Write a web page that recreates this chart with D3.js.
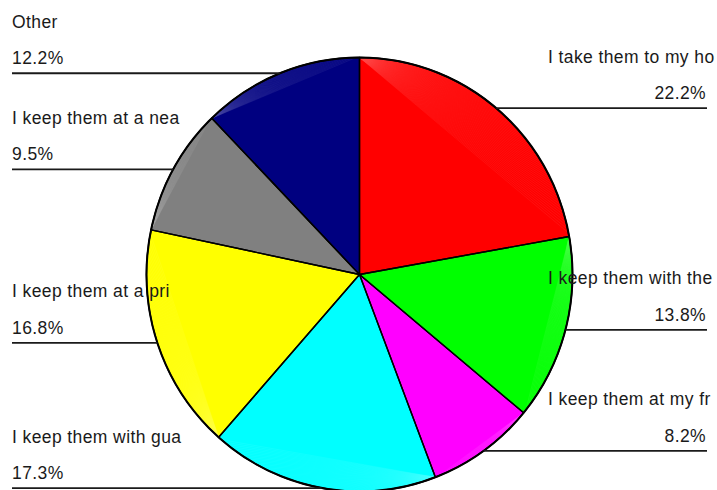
<!DOCTYPE html>
<html>
<head>
<meta charset="utf-8">
<script src="https://cdn.jsdelivr.net/npm/d3@7"></script>
<style>
  html, body { margin: 0; padding: 0; background: #fff; overflow: hidden; }
  svg { display: block; }
  text { font-family: "Liberation Sans", Arial, sans-serif; font-size: 17.5px; letter-spacing: 0.4px; fill: #1a1a1a; }
</style>
</head>
<body>
<svg id="chart" width="717" height="490"></svg>
<script>
// Answers and their shares (%), clockwise from 12 o'clock
const categories = [
  "I take them to my home",
  "I keep them with the",
  "I keep them at my friend's",
  "I keep them with guards",
  "I keep them at a private place",
  "I keep them at a nearby place",
  "Other"
];
const shares = [22.2, 13.8, 8.2, 17.3, 16.8, 9.5, 12.2];
const colors = ["#ff0000", "#00ff00", "#ff00ff", "#00ffff", "#ffff00", "#808080", "#000080"];

const W = 717, H = 490;
const cx = 359.5, cy = 274.5, rx = 213, ry = 217;

const svg = d3.select("#chart");

const pie = d3.pie().sort(null).value(d => d.value).startAngle(0).endAngle(2 * Math.PI);
const data = categories.map((c, i) => ({ name: c, value: shares[i], color: colors[i] }));
const arcs = pie(data);

const arc = d3.arc().innerRadius(0).outerRadius(ry);

// pie is drawn on a circle and squeezed horizontally into an ellipse
const g = svg.append("g").attr("transform", `translate(${cx},${cy}) scale(${rx / ry},1)`);

g.selectAll("path.slice")
  .data(arcs)
  .join("path")
  .attr("class", "slice")
  .attr("d", arc)
  .attr("fill", d => d.data.color);

// faint fan seams inside each slice's outer segment
const pt = a => [ry * Math.sin(a), -ry * Math.cos(a)];
arcs.forEach(d => {
  const c = d3.color(d.data.color);
  const light = d3.interpolateRgb(c, "#ffffff")(0.3);
  const n = Math.max(8, Math.round((d.endAngle - d.startAngle) * 60));
  const p0 = pt(d.startAngle);
  for (let k = 1; k < n; k++) {
    const a = d.startAngle + (d.endAngle - d.startAngle) * k / n;
    const p = pt(a);
    g.append("line")
      .attr("x1", p0[0]).attr("y1", p0[1])
      .attr("x2", p[0]).attr("y2", p[1])
      .attr("stroke", light)
      .attr("stroke-opacity", 0.4)
      .attr("stroke-width", 0.5)
      .attr("vector-effect", "non-scaling-stroke");
  }
});

// slice borders over the seams
g.selectAll("path.border")
  .data(arcs)
  .join("path")
  .attr("class", "border")
  .attr("d", arc)
  .attr("fill", "none")
  .attr("stroke", "#000")
  .attr("stroke-width", 1.4)
  .attr("stroke-linejoin", "round")
  .attr("vector-effect", "non-scaling-stroke");

// heavier rim
g.append("ellipse")
  .attr("rx", ry).attr("ry", ry)
  .attr("fill", "none")
  .attr("stroke", "#000")
  .attr("stroke-width", 2)
  .attr("vector-effect", "non-scaling-stroke");

// labels: slice name (first 20 chars) above its share, on a leader line at the slice's mid angle
const leftX = 12, rightEnd = 707, rightNameX = 548;
const labels = svg.append("g");
arcs.forEach(d => {
  const mid = (d.startAngle + d.endAngle) / 2;
  const ex = cx + rx * Math.sin(mid);
  const ey = cy - ry * Math.cos(mid);
  const right = Math.sin(mid) > 0;
  const name = d.data.name.slice(0, 20);
  const pct = d.data.value.toFixed(1) + "%";

  labels.append("line")
    .attr("x1", right ? ex : leftX)
    .attr("x2", right ? rightEnd : ex)
    .attr("y1", ey).attr("y2", ey)
    .attr("stroke", "#1a1a1a")
    .attr("stroke-width", 1.8);

  labels.append("text")
    .attr("x", right ? rightNameX : leftX)
    .attr("y", ey - 45.5)
    .text(name);

  labels.append("text")
    .attr("x", right ? rightEnd - 1 : leftX)
    .attr("y", ey - 9)
    .attr("text-anchor", right ? "end" : "start")
    .text(pct);
});
</script>
</body>
</html>
